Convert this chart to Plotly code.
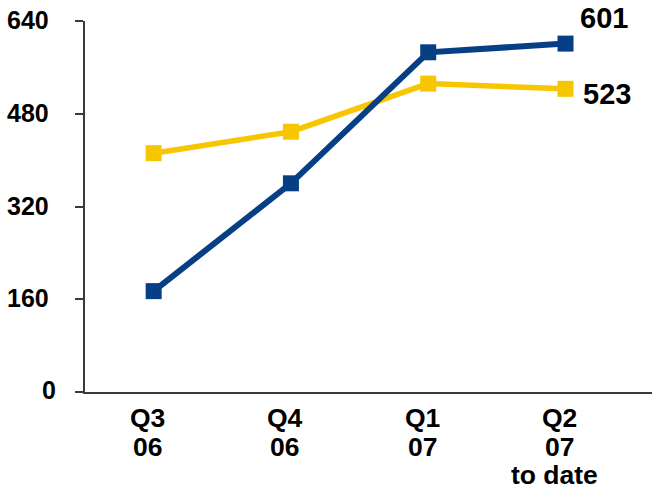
import plotly.graph_objects as go

categories = ["Q3<br>06", "Q4<br>06", "Q1<br>07", "Q2<br>07<br>to date"]
blue_values = [174, 360, 586, 601]
yellow_values = [412, 449, 532, 523]
y_tick_vals = [0, 160, 320, 480, 640]
y_tick_text = ["0", "160", "320", "480", "640"]

BLUE = "#073f84"
YELLOW = "#f7c600"
AXIS = "#3a3a3a"
FONT = "Liberation Sans, Arial, sans-serif"

fig = go.Figure()
fig.add_trace(go.Scatter(
    x=categories, y=yellow_values, mode="lines+markers",
    line=dict(color=YELLOW, width=5.5),
    marker=dict(symbol="square", size=16, color=YELLOW),
    showlegend=False, hoverinfo="skip"))
fig.add_trace(go.Scatter(
    x=categories, y=blue_values, mode="lines+markers",
    line=dict(color=BLUE, width=6),
    marker=dict(symbol="square", size=16, color=BLUE),
    showlegend=False, hoverinfo="skip"))

annotations = []
# end-of-line value labels
annotations.append(dict(x=categories[-1], y=blue_values[-1], text=f"<b>{blue_values[-1]}</b>",
                        showarrow=False, xanchor="left", yanchor="middle", xshift=12, yshift=26,
                        font=dict(family=FONT, size=29, color="black")))
annotations.append(dict(x=categories[-1], y=yellow_values[-1], text=f"<b>{yellow_values[-1]}</b>",
                        showarrow=False, xanchor="left", yanchor="middle", xshift=15, yshift=-5,
                        font=dict(family=FONT, size=29, color="black")))
# x tick labels (tight line spacing)
for c in categories:
    for i, line in enumerate(c.split("<br>")):
        annotations.append(dict(x=c, y=0, yref="paper", text=f"<b>{line}</b>", showarrow=False,
                                xanchor="center", yanchor="middle",
                                xshift=-11 if line == "to date" else -6,
                                yshift=-26 - 28.5 * i,
                                font=dict(family=FONT, size=26.5, color="black")))
# y tick labels
for v, t in zip(y_tick_vals, y_tick_text):
    annotations.append(dict(x=0, xref="paper", y=v, text=f"<b>{t}</b>", showarrow=False,
                            xanchor="right", yanchor="middle",
                            xshift=-27 if v == 0 else -34, yshift=2 if v == 0 else 1,
                            font=dict(family=FONT, size=25, color="black")))

fig.update_layout(
    width=655, height=492,
    margin=dict(l=85, r=3, t=21, b=100),
    paper_bgcolor="white", plot_bgcolor="white",
    annotations=annotations,
    xaxis=dict(type="category", range=[-0.5, 3.63], showticklabels=False, ticks="",
               showgrid=False, zeroline=False, showline=True, linecolor=AXIS, linewidth=1.5),
    yaxis=dict(range=[0, 640], tickvals=y_tick_vals, showticklabels=False, ticks="outside",
               ticklen=8, tickcolor=AXIS, tickwidth=1.5, showgrid=False, zeroline=False,
               showline=True, linecolor=AXIS, linewidth=1.5),
)

fig.write_html("out.html")
